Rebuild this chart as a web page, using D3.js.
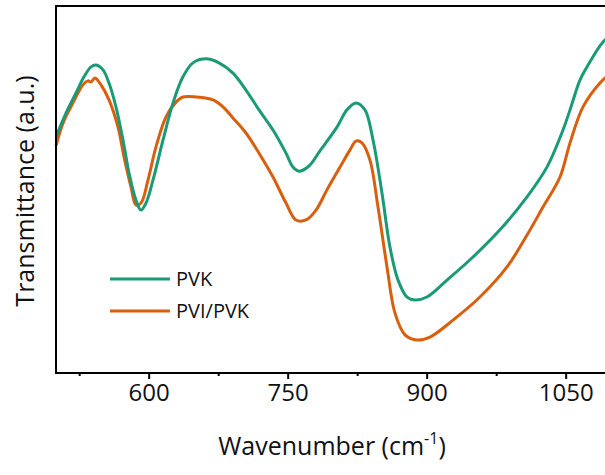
<!DOCTYPE html>
<html>
<head>
<meta charset="utf-8">
<script src="https://cdn.jsdelivr.net/npm/d3@7"></script>
<style>
  body { margin: 0; background: #fff; }
  svg { display: block; font-family: "Open Sans", sans-serif; }
  .axis path, .axis line { stroke: #000; }
</style>
</head>
<body>
<div id="chart-area"></div>
<script>
// wavenumber (cm-1) sample positions, one list per series
const pvkWave = [500, 510.8, 521.6, 530.2, 537.8, 543.2, 550.7, 557.2, 564.7, 572.3,
  578.8, 586.3, 591.7, 597.1, 604.7, 615.5, 626.3, 637, 647.8, 661.9, 675.9, 691, 705,
  719.1, 734.2, 748.2, 755.7, 762.2, 773, 785, 803.2, 814, 823.7, 833.4, 842.1,
  851.8, 860.4, 869.1, 878.8, 887.4, 900.3, 921.9, 950, 979.1, 1008.3, 1029.8, 1047.1,
  1054.7, 1065.4, 1073, 1090.3, 1100]
const pvkTrans = [64.3, 70.8, 76.3, 80.7, 83.4, 83.9, 82.6, 79.0, 72.5, 63.5,
  54.5, 47.1, 44.4, 46.3, 52.6, 63.5, 73.6, 80.7, 84.5, 85.6, 84.5, 81.7, 77.1,
  71.7, 66.2, 59.9, 56.1, 55.0, 56.4, 60.6, 67.0, 71.7, 73.6, 71.7, 63.5,
  49.0, 34.3, 25.3, 20.7, 19.9, 20.7, 25.3, 31.6, 39.0, 48.0, 56.1, 66.2,
  71.7, 79.8, 83.4, 90.2, 92.1]

const pviWave = [500, 507.6, 518.3, 529.1, 534.5, 537.8, 542.1, 548.6, 557.2, 566.9,
  573.4, 580.9, 586.3, 591.7, 599.3, 607.9, 618.7, 629.5, 637, 651.1, 669.4, 680.2,
  691, 705, 719.1, 734.2, 748.2, 759, 769.8, 780.6, 792.4, 806.5, 817.3, 823.7, 830.2,
  838.8, 847.5, 857.2, 865.8, 876.6, 889.6, 903.6, 928.4, 957.5, 986.7, 1008.3,
  1025.5, 1043.9, 1054.7, 1068.7, 1087, 1100]
const pviTrans = [61.9, 68.1, 73.6, 78.5, 79.6, 79.3, 80.4, 78.5, 74.4, 67.0,
  58.9, 50.7, 45.8, 46.3, 52.6, 61.6, 69.8, 73.8, 75.2, 75.2, 74.4, 72.5,
  69.5, 65.4, 59.9, 53.4, 46.3, 41.7, 41.7, 44.4, 49.9, 56.1, 60.8, 63.2, 62.7,
  58.0, 45.2, 28.9, 16.3, 10.4, 9.0, 9.8, 14.4, 20.7, 28.9, 37.6,
  45.2, 53.4, 62.7, 72.5, 79.0, 82.0]

const seriesNames = ["PVK", "PVI/PVK"]
const seriesColors = ["#1b9a77", "#d95f0e"]
const xMajorTicks = [600, 750, 900, 1050]
const xMinorTicks = [525, 675, 825, 975]

const WIDTH = 605, HEIGHT = 475
const MARGIN = { LEFT: 56, TOP: 6, BOTTOM: 102 }

const svg = d3.select("#chart-area").append("svg")
    .attr("width", WIDTH)
    .attr("height", HEIGHT)

// scales - the right part of the frame runs past the window
const x = d3.scaleLinear().domain([500, 1100]).range([MARGIN.LEFT, MARGIN.LEFT + 556])
const y = d3.scaleLinear().domain([0, 100]).range([HEIGHT - MARGIN.BOTTOM, MARGIN.TOP])

const data = [
    pvkWave.map((w, i) => ({ w: w, t: pvkTrans[i] })),
    pviWave.map((w, i) => ({ w: w, t: pviTrans[i] }))
]

const line = d3.line()
    .x(d => x(d.w))
    .y(d => y(d.t))
    .curve(d3.curveCatmullRom)

// draw orange first so green sits on top where they cross
svg.selectAll(".line")
    .data([1, 0])
    .enter().append("path")
    .attr("class", "line")
    .attr("fill", "none")
    .attr("stroke", i => seriesColors[i])
    .attr("stroke-width", 3)
    .attr("d", i => line(data[i]))

// frame
svg.append("rect")
    .attr("x", x(500))
    .attr("y", y(100))
    .attr("width", x(1100) - x(500))
    .attr("height", y(0) - y(100))
    .attr("fill", "none")
    .attr("stroke", "#000")
    .attr("stroke-width", 2)

// x axis, major and minor ticks
const xAxis = svg.append("g")
    .attr("class", "x axis")
    .attr("transform", `translate(0, ${y(0)})`)
    .call(d3.axisBottom(x).tickValues(xMajorTicks).tickFormat(d3.format("d")).tickSize(6).tickPadding(5))
xAxis.select(".domain").remove()
xAxis.selectAll("line").attr("stroke-width", 2)
xAxis.selectAll("text")
    .attr("font-family", "Open Sans")
    .attr("font-size", "24px")
    .attr("fill", "#111")

const xMinor = svg.append("g")
    .attr("class", "x axis minor")
    .attr("transform", `translate(0, ${y(0)})`)
    .call(d3.axisBottom(x).tickValues(xMinorTicks).tickSize(3).tickFormat(""))
xMinor.select(".domain").remove()
xMinor.selectAll("line").attr("stroke-width", 2)

// axis labels
const xLabel = svg.append("text")
    .attr("x", 332)
    .attr("y", 455)
    .attr("font-size", "25px")
    .attr("text-anchor", "middle")
    .attr("fill", "#111")
xLabel.append("tspan").text("Wavenumber (cm")
xLabel.append("tspan").attr("font-size", "16px").attr("dy", -11).text("-1")
xLabel.append("tspan").attr("dy", 11).text(")")

svg.append("text")
    .attr("transform", "rotate(-90)")
    .attr("x", -191)
    .attr("y", 34)
    .attr("font-size", "25px")
    .attr("text-anchor", "middle")
    .attr("fill", "#111")
    .text("Transmittance (a.u.)")

// legend
const legend = svg.append("g").attr("class", "legend")
seriesNames.forEach((name, i) => {
    const ly = 279 + i * 32
    legend.append("line")
        .attr("x1", 110).attr("x2", 170)
        .attr("y1", ly).attr("y2", ly)
        .attr("stroke", seriesColors[i])
        .attr("stroke-width", 3)
    legend.append("text")
        .attr("x", 176)
        .attr("y", ly + 7)
        .attr("font-size", "20px")
        .attr("fill", "#111")
        .text(name)
})
</script>
</body>
</html>
